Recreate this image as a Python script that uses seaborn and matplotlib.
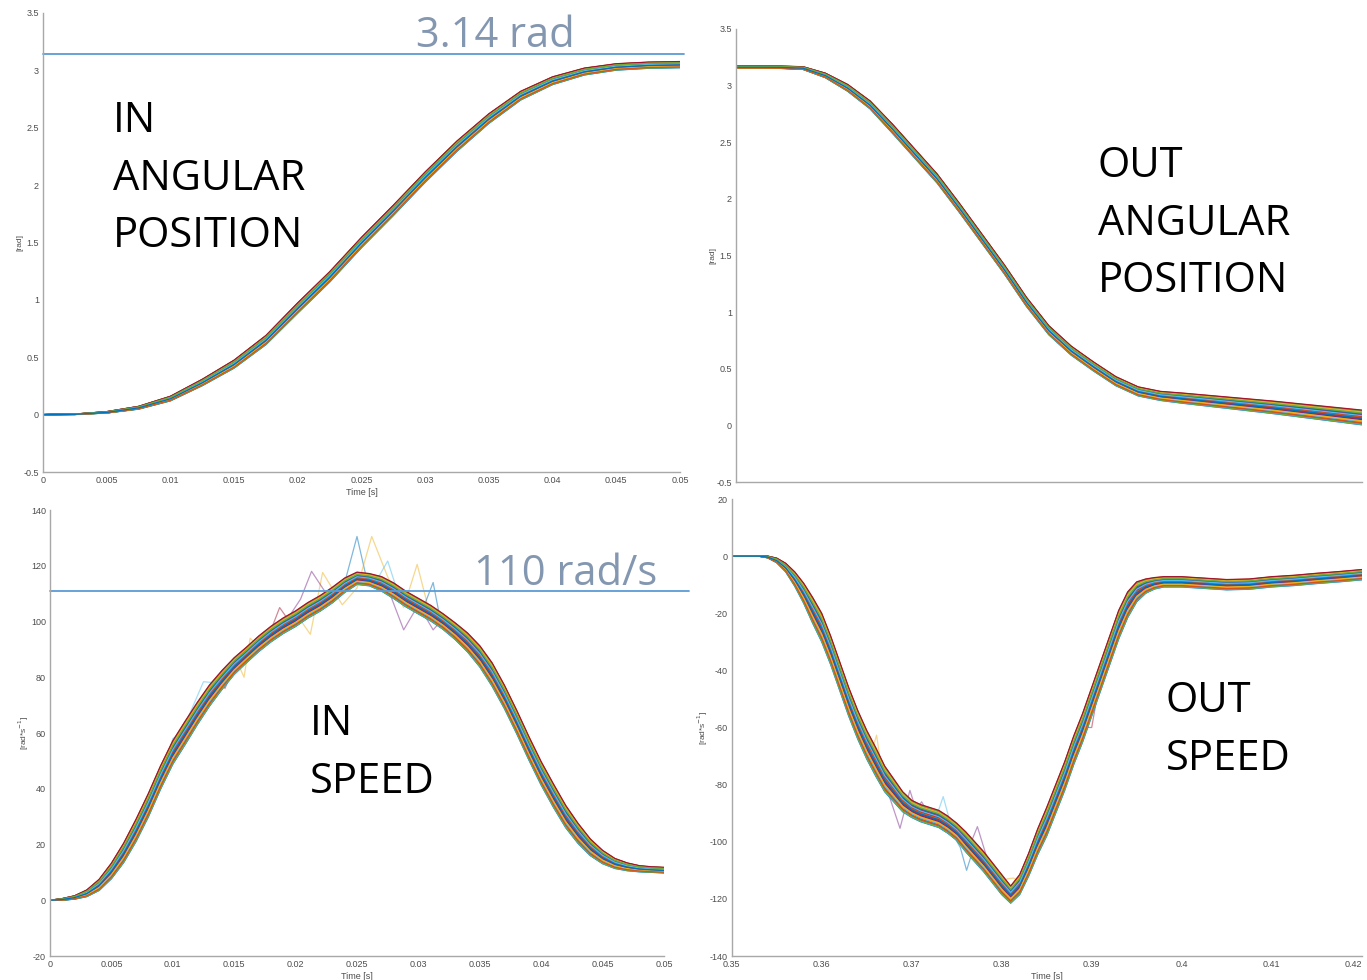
import numpy as np
import pandas as pd
import matplotlib
matplotlib.use("Agg")
import matplotlib.pyplot as plt
import seaborn as sns

# ------------------------------------------------------------------ data
# IN angular position: bundle centre and half-width (rad)
in_pos_t = [0.0, 0.0025, 0.005, 0.0075, 0.01, 0.0125, 0.015, 0.0175, 0.02, 0.0225,
            0.025, 0.0275, 0.03, 0.0325, 0.035, 0.0375, 0.04, 0.0425, 0.045, 0.0475, 0.05]
in_pos_c = [0.0, 0.003, 0.02, 0.06, 0.14, 0.28, 0.44, 0.65, 0.93, 1.2,
            1.5, 1.78, 2.07, 2.34, 2.58, 2.78, 2.91, 2.99, 3.03, 3.045, 3.05]
in_pos_h = [0.0, 0.002, 0.006, 0.012, 0.02, 0.028, 0.035, 0.04, 0.045, 0.045,
            0.045, 0.045, 0.045, 0.045, 0.042, 0.038, 0.034, 0.03, 0.028, 0.027, 0.027]

# OUT angular position
out_pos_t = [0.35, 0.3525, 0.355, 0.3575, 0.36, 0.3625, 0.365, 0.3675, 0.37, 0.3725,
             0.375, 0.3775, 0.38, 0.3825, 0.385, 0.3875, 0.39, 0.3925, 0.395, 0.3975,
             0.40, 0.405, 0.41, 0.415, 0.42]
out_pos_c = [3.163, 3.163, 3.162, 3.155, 3.09, 2.98, 2.83, 2.62, 2.40, 2.18,
             1.92, 1.65, 1.38, 1.09, 0.84, 0.66, 0.52, 0.39, 0.30, 0.26,
             0.24, 0.20, 0.16, 0.115, 0.07]
out_pos_h = [0.01, 0.01, 0.01, 0.012, 0.02, 0.03, 0.035, 0.04, 0.04, 0.04,
             0.04, 0.04, 0.04, 0.04, 0.04, 0.04, 0.04, 0.04, 0.04, 0.04,
             0.045, 0.05, 0.055, 0.06, 0.065]

# IN speed (rad/s)
in_spd_t = [0.000, 0.001, 0.002, 0.003, 0.004, 0.005, 0.006, 0.007, 0.008, 0.009,
            0.010, 0.011, 0.012, 0.013, 0.014, 0.015, 0.016, 0.017, 0.018, 0.019,
            0.020, 0.021, 0.022, 0.023, 0.024, 0.025, 0.026, 0.027, 0.028, 0.029,
            0.030, 0.031, 0.032, 0.033, 0.034, 0.035, 0.036, 0.037, 0.038, 0.039,
            0.040, 0.041, 0.042, 0.043, 0.044, 0.045, 0.046, 0.047, 0.048, 0.049,
            0.050]
in_spd_c = [0.0, 0.3, 1.0, 2.5, 5.5, 10.5, 17, 25, 34, 44,
            53, 60, 67, 73.5, 79, 84, 88, 92, 95.5, 98.5,
            101, 104, 106.5, 109.5, 113, 115.5, 115, 113.5, 111, 108,
            105.5, 103, 100, 96.5, 92.5, 87.5, 81, 73, 64, 54.5,
            45.5, 37.5, 30, 24, 19, 15.5, 13.2, 12, 11.3, 11,
            10.8]
in_spd_h = [0.0, 0.3, 0.6, 1.2, 2.0, 2.8, 3.5, 4.0, 4.2, 4.2,
            4.2, 4.2, 4.0, 3.8, 3.4, 3.0, 2.8, 2.8, 2.8, 2.8,
            2.8, 2.8, 2.8, 2.8, 2.6, 2.2, 2.2, 2.6, 2.8, 2.8,
            2.8, 2.8, 2.8, 3.0, 3.4, 3.8, 4.2, 4.2, 4.2, 4.2,
            4.2, 4.2, 4.0, 3.6, 3.0, 2.4, 1.8, 1.4, 1.1, 1.0,
            1.0]

# OUT speed (rad/s)
out_spd_t = [0.350, 0.351, 0.352, 0.353, 0.354, 0.355, 0.356, 0.357, 0.358, 0.359,
             0.360, 0.361, 0.362, 0.363, 0.364, 0.365, 0.366, 0.367, 0.368, 0.369,
             0.370, 0.371, 0.372, 0.373, 0.374, 0.375, 0.376, 0.377, 0.378, 0.379,
             0.380, 0.381, 0.382, 0.383, 0.384, 0.385, 0.386, 0.387, 0.388, 0.389,
             0.390, 0.391, 0.392, 0.393, 0.394, 0.395, 0.396, 0.397, 0.398, 0.399,
             0.400, 0.4025, 0.405, 0.4075, 0.410, 0.4125, 0.415, 0.4175, 0.420]
out_spd_c = [0, 0, 0, 0, -0.3, -1.5, -4, -8, -13, -19,
             -25, -33, -42, -51, -59, -66, -72, -78, -82, -86,
             -88.5, -90, -91, -92, -94, -96.5, -100, -103.5, -107, -111,
             -115, -118.5, -115, -108, -100, -93, -85, -77, -68, -60,
             -51, -42, -33, -24, -17, -12.5, -10.5, -9.5, -9, -9,
             -9, -9.5, -10, -9.8, -9, -8.5, -7.8, -7.2, -6.5]
out_spd_h = [0, 0, 0, 0, 0.3, 0.8, 1.5, 2.5, 3.5, 4.5,
             5, 5, 5, 5, 5, 5, 5, 4.5, 4, 3.5,
             3, 3, 3, 3, 3, 3, 3.5, 3.5, 3.5, 3.5,
             3.5, 3, 3.5, 4, 4.5, 5, 5, 5, 5, 5,
             5, 5, 5, 5, 4.5, 3.5, 2.5, 2, 1.8, 1.8,
             1.8, 1.8, 1.8, 1.8, 1.8, 1.8, 1.8, 1.8, 1.8]

# relative position of each repeated trace inside the bundle (-1 .. 1)
trace_pos = [-1.0, 0.85, -0.6, 0.3, -0.15, 0.95, -0.8, 0.55, -0.4, 0.1,
             0.7, -0.95, 0.45, -0.25, 0.85, -0.7, 0.2, -0.5, 0.65, -0.05,
             0.9, -0.85, 0.35, -0.3, 0.75, -0.6, 0.05, -0.9, 0.5, -0.2,
             1.0, -0.45, 0.25, -0.75, 0.6, -0.1]

# noisy single traces (time, value, colour)
in_spd_spikes = [
    ([0.0235, 0.0240, 0.0250, 0.0258, 0.0265], [111, 114, 130.5, 115, 115], "#0072BD"),
    ([0.0200, 0.0212, 0.0222, 0.0238, 0.0250, 0.0262, 0.0275, 0.0288, 0.0299, 0.0308, 0.0318],
     [103, 95.4, 117.6, 106, 112, 130.5, 116, 105, 120.5, 105, 101], "#EDB120"),
    ([0.0195, 0.0204, 0.0213, 0.0225], [102, 108, 118, 110], "#7E2F8E"),
    ([0.0275, 0.0288, 0.0300, 0.0312, 0.0322], [112, 97, 106, 97, 102], "#7E2F8E"),
    ([0.0265, 0.0275, 0.0285], [114, 121.7, 108], "#4DBEEE"),
    ([0.0305, 0.0312, 0.0319, 0.0326], [106, 114, 98, 99], "#0072BD"),
    ([0.0180, 0.0187, 0.0195], [97, 105, 100], "#A2142F"),
    ([0.0095, 0.0100, 0.0107, 0.0125, 0.0135, 0.0142], [50, 58, 60, 78.4, 78, 80], "#4DBEEE"),
    ([0.0152, 0.0158, 0.0163, 0.0170], [86, 80, 94, 91], "#EDB120"),
    ([0.0136, 0.01425, 0.0150], [80, 76, 84], "#A2142F"),
]
out_spd_spikes = [
    ([0.3648, 0.3654, 0.3661, 0.3668, 0.3675], [-66, -70, -62.7, -78, -79], "#EDB120"),
    ([0.3675, 0.3687, 0.3698, 0.3705, 0.3711, 0.3722], [-84, -95.3, -82, -89, -86, -92], "#7E2F8E"),
    ([0.3718, 0.3728, 0.3735, 0.3743, 0.3752], [-91, -90.7, -84.2, -93.5, -96], "#4DBEEE"),
    ([0.3745, 0.3754, 0.3761, 0.3768], [-97, -102, -110, -103], "#0072BD"),
    ([0.3765, 0.3773, 0.3783, 0.3790], [-101, -94.7, -105, -109], "#7E2F8E"),
    ([0.3800, 0.3806, 0.3813, 0.3820], [-115, -113, -112.7, -114], "#EDB120"),
    ([0.3880, 0.3890, 0.3900, 0.3910], [-66, -60, -60, -42], "#A2142F"),
]

# reference levels and labels
in_pos_ref = 3.14
in_pos_ref_label = "3.14 rad"
in_spd_ref = 111
in_spd_ref_label = "110 rad/s"

# axis ticks
x_in_ticks = [0, 0.005, 0.01, 0.015, 0.02, 0.025, 0.03, 0.035, 0.04, 0.045, 0.05]
x_in_labels = ["0", "0.005", "0.01", "0.015", "0.02", "0.025", "0.03", "0.035", "0.04", "0.045", "0.05"]
x_out_ticks = [0.35, 0.36, 0.37, 0.38, 0.39, 0.40, 0.41, 0.42]
x_out_labels = ["0.35", "0.36", "0.37", "0.38", "0.39", "0.4", "0.41", "0.42"]
y_pos_ticks = [-0.5, 0, 0.5, 1, 1.5, 2, 2.5, 3, 3.5]
y_pos_labels = ["-0.5", "0", "0.5", "1", "1.5", "2", "2.5", "3", "3.5"]
y_in_spd_ticks = [-20, 0, 20, 40, 60, 80, 100, 120, 140]
y_in_spd_labels = ["-20", "0", "20", "40", "60", "80", "100", "120", "140"]
y_out_spd_ticks = [-140, -120, -100, -80, -60, -40, -20, 0, 20]
y_out_spd_labels = ["-140", "-120", "-100", "-80", "-60", "-40", "-20", "0", "20"]

MATLAB_COLORS = ["#0072BD", "#D95319", "#EDB120", "#7E2F8E", "#77AC30", "#4DBEEE", "#A2142F"]

# ------------------------------------------------------------------ style
sns.set_theme(style="white")
plt.rcParams["font.family"] = ["Liberation Sans", "DejaVu Sans"]

W, H = 1367, 980
fig = plt.figure(figsize=(W / 100, H / 100), dpi=100)
fig.patch.set_facecolor("white")

AX_COL = "#a8a8a8"
TXT_COL = "#4d4d4d"


def px_axes(left, top, right, bottom):
    return fig.add_axes([left / W, 1 - bottom / H, (right - left) / W, (bottom - top) / H])


def bundle_df(t, c, h):
    c = np.asarray(c, float)
    h = np.asarray(h, float)
    frames = [pd.DataFrame({"t": t, "v": c + w * h, "trace": i}) for i, w in enumerate(trace_pos)]
    return pd.concat(frames, ignore_index=True)


palette = [MATLAB_COLORS[(3 * i) % len(MATLAB_COLORS)] for i in range(len(trace_pos))]


def draw_bundle(ax, t, c, h, spikes=()):
    for st, sv, col in spikes:
        sns.lineplot(x=st, y=sv, color=col, lw=0.9, alpha=0.5, ax=ax, sort=False)
    sns.lineplot(data=bundle_df(t, c, h), x="t", y="v", hue="trace", palette=palette,
                 legend=False, estimator=None, lw=0.9, ax=ax, sort=False)


def style_axes(ax, xlim, ylim, xt, xl, yt, yl, ylabel, xlabel="Time [s]"):
    ax.set_xlim(*xlim)
    ax.set_ylim(*ylim)
    ax.set_xticks(xt)
    ax.set_xticklabels(xl)
    ax.set_yticks(yt)
    ax.set_yticklabels(yl)
    ax.set_facecolor("white")
    for s in ("top", "right"):
        ax.spines[s].set_visible(False)
    for s in ("left", "bottom"):
        ax.spines[s].set_color(AX_COL)
        ax.spines[s].set_linewidth(1.0)
    ax.tick_params(direction="in", length=4, width=0.8, color=AX_COL,
                   labelcolor=TXT_COL, labelsize=6.5, pad=3)
    ax.set_xlabel(xlabel, fontsize=6.5, color=TXT_COL, labelpad=2)
    ax.set_ylabel(ylabel, fontsize=6, color=TXT_COL, labelpad=0)
    ax.grid(False)


# ---- top left: IN angular position
ax1 = px_axes(43, 13, 680, 472)
draw_bundle(ax1, in_pos_t, in_pos_c, in_pos_h)
style_axes(ax1, (0, 0.05), (-0.5, 3.5), x_in_ticks, x_in_labels, y_pos_ticks, y_pos_labels, "[rad]")
ax1.axhline(in_pos_ref, xmin=0, xmax=1.006, color="#5B9BD5", lw=1.3, clip_on=False)

# ---- top right: OUT angular position
ax2 = px_axes(736, 29, 1361.7, 482)
draw_bundle(ax2, out_pos_t, out_pos_c, out_pos_h)
style_axes(ax2, (0.35, 0.42), (-0.5, 3.5), x_out_ticks, [""] * len(x_out_ticks),
           y_pos_ticks, y_pos_labels, "[rad]", xlabel="")

# ---- bottom left: IN speed
ax3 = px_axes(50, 510, 664, 956)
draw_bundle(ax3, in_spd_t, in_spd_c, in_spd_h, in_spd_spikes)
style_axes(ax3, (0, 0.05), (-20, 140), x_in_ticks, x_in_labels, y_in_spd_ticks, y_in_spd_labels,
           r"[rad*s$^{-1}$]")
ax3.axhline(in_spd_ref, xmin=0, xmax=1.04, color="#5B9BD5", lw=1.3, clip_on=False)

# ---- bottom right: OUT speed
ax4 = px_axes(731.7, 499, 1361.7, 956)
draw_bundle(ax4, out_spd_t, out_spd_c, out_spd_h, out_spd_spikes)
style_axes(ax4, (0.35, 0.42), (-140, 20), x_out_ticks, x_out_labels, y_out_spd_ticks, y_out_spd_labels,
           r"[rad*s$^{-1}$]")
ax4.get_xticklabels()[-1].set_horizontalalignment("right")

# ---- big annotations (pixel positions, baseline)
BIG = dict(family=["Open Sans", "DejaVu Sans"], fontsize=30, color="black", va="baseline", ha="left")
REF = dict(family=["Open Sans", "DejaVu Sans"], fontsize=30, color="#8497B0", va="baseline", ha="left")


def ftext(x, y, s, **kw):
    fig.text(x / W, 1 - y / H, s, **kw)


ftext(113, 132, "IN", **BIG)
ftext(113, 190, "ANGULAR", **BIG)
ftext(113, 247, "POSITION", **BIG)

ftext(1098, 177, "OUT", **BIG)
ftext(1098, 235, "ANGULAR", **BIG)
ftext(1098, 292, "POSITION", **BIG)

ftext(310, 735, "IN", **BIG)
ftext(310, 793, "SPEED", **BIG)

ftext(1166, 712, "OUT", **BIG)
ftext(1166, 770, "SPEED", **BIG)

ftext(416, 47, in_pos_ref_label, **REF)
ftext(474, 585, in_spd_ref_label, **REF)

fig.savefig("out.png", dpi=100, facecolor="white")
